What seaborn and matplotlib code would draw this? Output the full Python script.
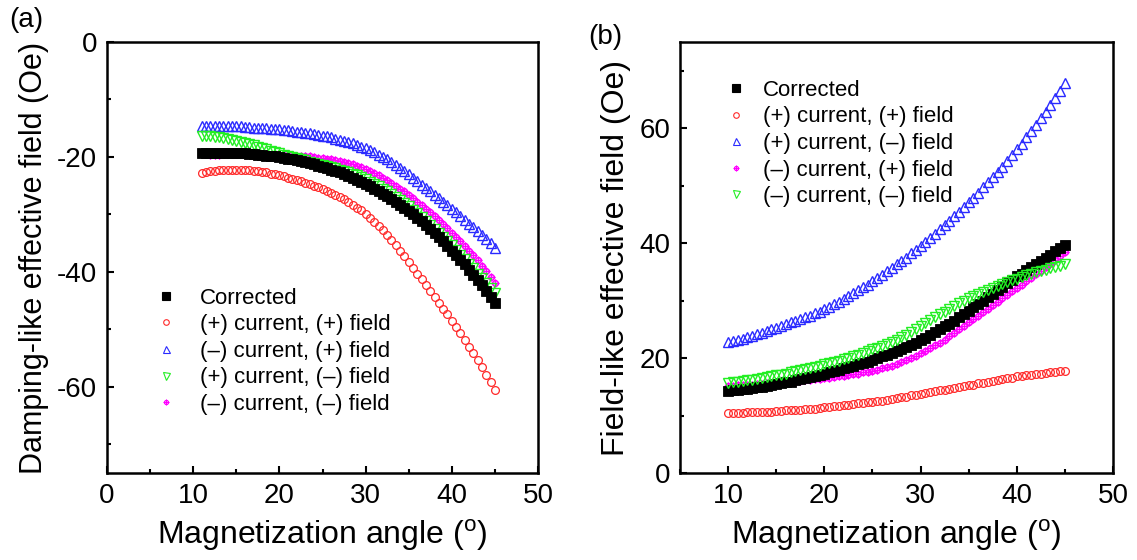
import numpy as np
import matplotlib
matplotlib.use("Agg")
import matplotlib.pyplot as plt
import seaborn as sns
from matplotlib.path import Path
from matplotlib.lines import Line2D
from matplotlib.ticker import MultipleLocator

# ---------------- data ----------------
# panel (a): damping-like effective field (Oe) vs magnetization angle (deg)
start_a = 11.0
start_a_mag = 12.0
step = 0.5

black_a = [-19.3,-19.3,-19.3,-19.3,-19.3,-19.3,-19.3,-19.3,-19.4,-19.4,
           -19.4,-19.5,-19.5,-19.6,-19.7,-19.8,-19.8,-19.9,-20.0,-20.2,
           -20.3,-20.4,-20.6,-20.7,-20.9,-21.1,-21.3,-21.5,-21.7,-21.9,
           -22.2,-22.4,-22.7,-23.0,-23.3,-23.6,-24.0,-24.3,-24.7,-25.1,
           -25.5,-25.9,-26.4,-26.8,-27.3,-27.8,-28.3,-28.8,-29.4,-30.0,
           -30.6,-31.2,-31.9,-32.6,-33.3,-34.0,-34.7,-35.5,-36.3,-37.1,
           -37.9,-38.7,-39.6,-40.5,-41.4,-42.3,-43.3,-44.4,-45.5]
red_a = [-22.8,-22.6,-22.5,-22.4,-22.3,-22.2,-22.2,-22.2,-22.2,-22.2,
         -22.3,-22.3,-22.4,-22.5,-22.6,-22.7,-22.9,-23.0,-23.2,-23.4,
         -23.6,-23.8,-24.0,-24.2,-24.5,-24.7,-25.0,-25.3,-25.6,-25.9,
         -26.3,-26.6,-27.0,-27.4,-27.8,-28.3,-28.8,-29.3,-29.9,-30.6,
         -31.3,-32.0,-32.8,-33.6,-34.5,-35.4,-36.3,-37.3,-38.3,-39.3,
         -40.3,-41.3,-42.3,-43.3,-44.4,-45.4,-46.4,-47.4,-48.5,-49.6,
         -50.7,-51.8,-53.0,-54.2,-55.4,-56.6,-57.9,-59.2,-60.5]
blue_a = [-14.6,-14.6,-14.6,-14.6,-14.6,-14.6,-14.7,-14.7,-14.7,-14.7,
          -14.8,-14.8,-14.9,-14.9,-15.0,-15.0,-15.1,-15.1,-15.2,-15.3,
          -15.4,-15.5,-15.6,-15.7,-15.8,-15.9,-16.0,-16.1,-16.3,-16.4,
          -16.6,-16.8,-17.0,-17.2,-17.4,-17.6,-17.9,-18.2,-18.5,-18.8,
          -19.2,-19.6,-20.0,-20.4,-20.9,-21.4,-21.9,-22.4,-23.0,-23.6,
          -24.2,-24.8,-25.4,-26.0,-26.6,-27.2,-27.8,-28.4,-29.0,-29.6,
          -30.3,-30.9,-31.6,-32.2,-32.9,-33.6,-34.3,-35.0,-35.8]
green_a = [-16.3,-16.3,-16.4,-16.5,-16.6,-16.7,-16.9,-17.0,-17.2,-17.4,
           -17.6,-17.8,-18.0,-18.2,-18.5,-18.7,-18.9,-19.1,-19.4,-19.6,
           -19.8,-20.0,-20.2,-20.4,-20.6,-20.8,-21.0,-21.2,-21.4,-21.6,
           -21.8,-22.0,-22.2,-22.4,-22.6,-22.9,-23.2,-23.5,-23.9,-24.3,
           -24.7,-25.1,-25.6,-26.0,-26.5,-27.0,-27.5,-28.0,-28.6,-29.2,
           -29.8,-30.4,-31.1,-31.8,-32.5,-33.2,-33.9,-34.6,-35.4,-36.2,
           -37.0,-37.8,-38.6,-39.4,-40.3,-41.1,-42.0,-42.8,-43.7]
magenta_a = [-19.7,-19.6,-19.6,-19.5,-19.5,-19.5,-19.5,-19.5,-19.5,-19.5,
             -19.5,-19.5,-19.5,-19.5,-19.6,-19.6,-19.6,-19.6,-19.7,-19.7,
             -19.8,-19.8,-19.9,-19.9,-20.0,-20.1,-20.2,-20.3,-20.4,-20.5,
             -20.7,-20.8,-21.0,-21.2,-21.5,-21.8,-22.1,-22.4,-22.8,-23.2,
             -23.6,-24.0,-24.5,-25.0,-25.5,-26.0,-26.6,-27.2,-27.8,-28.4,
             -29.0,-29.6,-30.3,-31.0,-31.7,-32.4,-33.2,-33.9,-34.7,-35.5,
             -36.3,-37.1,-38.0,-38.9,-39.9,-40.9,-41.9]

# panel (b): field-like effective field (Oe)
start_b = 10.0
black_b = [14.3,14.4,14.5,14.6,14.7,14.8,14.9,15.0,15.2,15.3,
           15.5,15.6,15.8,15.9,16.1,16.3,16.5,16.7,16.9,17.1,
           17.3,17.5,17.7,17.9,18.2,18.4,18.7,18.9,19.2,19.4,
           19.7,20.0,20.3,20.6,20.9,21.2,21.6,21.9,22.3,22.7,
           23.1,23.5,24.0,24.5,25.0,25.5,26.0,26.5,27.1,27.6,
           28.2,28.8,29.4,30.0,30.6,31.2,31.8,32.4,33.0,33.6,
           34.2,34.7,35.3,35.8,36.4,36.9,37.5,38.0,38.6,39.1,
           39.7]
red_b = [10.5,10.5,10.5,10.5,10.6,10.6,10.6,10.6,10.7,10.7,
         10.8,10.8,10.9,10.9,11.0,11.0,11.1,11.1,11.2,11.3,
         11.4,11.5,11.6,11.7,11.8,11.9,12.0,12.1,12.2,12.3,
         12.4,12.5,12.6,12.7,12.9,13.0,13.2,13.3,13.5,13.6,
         13.8,13.9,14.1,14.2,14.4,14.5,14.7,14.8,15.0,15.1,
         15.3,15.4,15.6,15.7,15.9,16.0,16.2,16.3,16.5,16.6,
         16.8,16.9,17.0,17.1,17.2,17.3,17.4,17.5,17.6,17.7,
         17.8]
blue_b = [22.8,23.0,23.2,23.4,23.7,23.9,24.2,24.4,24.7,25.0,
          25.3,25.6,25.9,26.2,26.5,26.8,27.1,27.4,27.8,28.1,
          28.5,28.9,29.4,29.8,30.3,30.8,31.3,31.8,32.3,32.8,
          33.4,33.9,34.5,35.1,35.7,36.3,36.9,37.5,38.2,38.8,
          39.5,40.2,40.9,41.6,42.4,43.1,43.9,44.7,45.5,46.3,
          47.1,47.9,48.8,49.7,50.6,51.5,52.4,53.3,54.3,55.3,
          56.3,57.3,58.4,59.5,60.6,61.7,62.9,64.1,65.3,66.5,
          67.8]
green_b = [15.7,15.8,15.9,16.0,16.1,16.2,16.4,16.5,16.7,16.8,
           17.0,17.1,17.3,17.5,17.7,17.9,18.1,18.3,18.5,18.7,
           18.9,19.1,19.3,19.5,19.8,20.0,20.3,20.6,20.9,21.2,
           21.5,21.8,22.1,22.4,22.8,23.2,23.7,24.1,24.6,25.1,
           25.6,26.1,26.6,27.1,27.6,28.1,28.6,29.1,29.6,30.0,
           30.4,30.8,31.2,31.5,31.9,32.2,32.6,32.9,33.2,33.5,
           33.8,34.1,34.4,34.6,34.9,35.1,35.4,35.6,35.9,36.1,
           36.4]
magenta_b = [15.2,15.2,15.3,15.3,15.4,15.4,15.5,15.5,15.6,15.6,
             15.7,15.7,15.8,15.8,15.9,16.0,16.1,16.2,16.3,16.4,
             16.5,16.6,16.7,16.8,16.9,17.0,17.2,17.3,17.5,17.6,
             17.8,18.0,18.2,18.4,18.7,19.0,19.3,19.6,20.0,20.4,
             20.8,21.2,21.7,22.2,22.7,23.2,23.8,24.4,25.0,25.6,
             26.2,26.8,27.4,28.0,28.6,29.2,29.8,30.4,31.0,31.6,
             32.2,32.8,33.4,34.0,34.6,35.2,35.8,36.4,37.1,37.7,
             38.4]

lab_corr = "Corrected"
lab_pp = "(+) current, (+) field"
lab_mp = "(\u2013) current, (+) field"
lab_pm = "(+) current, (\u2013) field"
lab_mm = "(\u2013) current, (\u2013) field"

# ---------------- style ----------------
sns.set_style("ticks")
plt.rcParams['font.family'] = ['Liberation Sans', 'DejaVu Sans']
plt.rcParams['axes.unicode_minus'] = False
plt.rcParams['mathtext.fontset'] = 'custom'
plt.rcParams['mathtext.rm'] = 'Liberation Sans'
for k in ('text.color', 'axes.labelcolor', 'xtick.color', 'ytick.color', 'axes.edgecolor'):
    plt.rcParams[k] = 'black'

circ_cross = Path.make_compound_path(
    Path.unit_circle(),
    Path([[-1.45, 0], [1.45, 0]], [Path.MOVETO, Path.LINETO]),
    Path([[0, -1.45], [0, 1.45]], [Path.MOVETO, Path.LINETO]),
)

STY = {
    "black": dict(marker="s", ms=7.2, mfc="black", mec="black", mew=0.6),
    "red": dict(marker="o", ms=5.6, mfc="none", mec="#ff2a2a", mew=0.9),
    "blue": dict(marker="^", ms=7.0, mfc="none", mec="#2a2aff", mew=1.0),
    "green": dict(marker="v", ms=7.0, mfc="none", mec="#22ee22", mew=1.0),
    "magenta": dict(marker=circ_cross, ms=6.0, mfc="none", mec="#ff00ff", mew=1.0),
}


def grid(start, n):
    return start + step * np.arange(n)


def draw(ax, y, start, key):
    s = STY[key]
    x = grid(start, len(y))
    sns.lineplot(x=x, y=y, ax=ax, linestyle="", marker=s["marker"],
                 markersize=s["ms"], markerfacecolor=s["mfc"],
                 markeredgecolor=s["mec"], markeredgewidth=s["mew"],
                 color=s["mec"], errorbar=None, sort=False, legend=False)


def handle(key, label):
    s = STY[key]
    return Line2D([], [], linestyle="", marker=s["marker"], markersize=s["ms"] * 0.72,
                  markerfacecolor=s["mfc"], markeredgecolor=s["mec"],
                  markeredgewidth=0.8, label=label)


fig = plt.figure(figsize=(11.37, 5.6), dpi=100)
W, H = 1137.0, 560.0
ax1 = fig.add_axes([107 / W, 1 - 473 / H, 431 / W, 431 / H])
ax2 = fig.add_axes([680 / W, 1 - 473 / H, 433 / W, 431 / H])

# panel (a)
draw(ax1, red_a, start_a, "red")
draw(ax1, blue_a, start_a, "blue")
draw(ax1, magenta_a, start_a_mag, "magenta")
draw(ax1, green_a, start_a, "green")
draw(ax1, black_a, start_a, "black")

# panel (b)
draw(ax2, red_b, start_b, "red")
draw(ax2, blue_b, start_b, "blue")
draw(ax2, magenta_b, start_b, "magenta")
draw(ax2, black_b, start_b, "black")
draw(ax2, green_b, start_b, "green")

for ax in (ax1, ax2):
    for sp in ax.spines.values():
        sp.set_linewidth(1.8)
        sp.set_visible(True)
        sp.set_color("black")
    ax.tick_params(which="both", direction="in", top=False, right=False,
                   width=1.5, labelsize=20, pad=7, colors="black")
    ax.tick_params(which="major", length=5)
    ax.tick_params(which="minor", length=3)
    ax.xaxis.set_minor_locator(MultipleLocator(5))
    ax.yaxis.set_minor_locator(MultipleLocator(10))
    ax.set_xlabel(r"Magnetization angle ($^{\mathrm{o}}$)", fontsize=23, labelpad=6)

ax1.set_xlim(0, 50)
ax1.set_ylim(-75, 0)
ax1.set_xticks([0, 10, 20, 30, 40, 50])
ax1.set_yticks([0, -20, -40, -60])
ax1.set_ylabel("Damping-like effective field (Oe)", fontsize=22, labelpad=6)

ax2.set_xlim(5, 50)
ax2.set_ylim(0, 75)
ax2.set_xticks([10, 20, 30, 40, 50])
ax2.set_yticks([0, 20, 40, 60])
ax2.set_ylabel("Field-like effective field (Oe)", fontsize=23, labelpad=6)

hands_a = [handle("black", lab_corr), handle("red", lab_pp), handle("blue", lab_mp),
           handle("green", lab_pm), handle("magenta", lab_mm)]
ax1.legend(handles=hands_a, loc="upper left", bbox_to_anchor=(0.112, 0.430),
           frameon=False, fontsize=16, handlelength=1.0, handletextpad=1.0,
           labelspacing=0.25, borderpad=0, borderaxespad=0)

hands_b = [handle("black", lab_corr), handle("red", lab_pp), handle("blue", lab_pm),
           handle("magenta", lab_mp), handle("green", lab_mm)]
ax2.legend(handles=hands_b, loc="upper left", bbox_to_anchor=(0.104, 0.912),
           frameon=False, fontsize=16, handlelength=1.0, handletextpad=0.7,
           labelspacing=0.25, borderpad=0, borderaxespad=0)

fig.text(26 / W, 1 - 20 / H, "(a)", fontsize=20, ha="center", va="center")
fig.text(605 / W, 1 - 37 / H, "(b)", fontsize=20, ha="center", va="center")

fig.savefig("out.png", dpi=100)
